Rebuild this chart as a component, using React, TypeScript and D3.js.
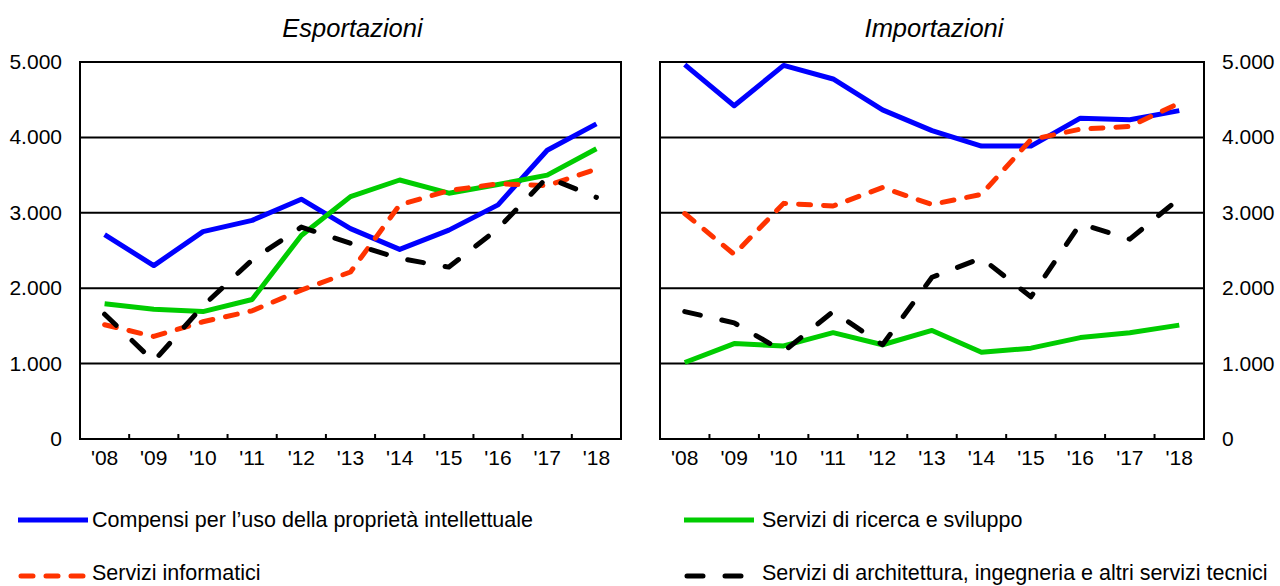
import * as d3 from "d3";

const years = ["'08", "'09", "'10", "'11", "'12", "'13", "'14", "'15", "'16", "'17", "'18"];
const yTicks = [0, 1000, 2000, 3000, 4000, 5000];

// esportazioni
const expCompensi = [2710, 2300, 2750, 2900, 3180, 2790, 2515, 2770, 3105, 3830, 4180];
const expRicerca = [1795, 1720, 1690, 1850, 2700, 3215, 3435, 3260, 3375, 3500, 3850];
const expInformatici = [1515, 1360, 1555, 1700, 1975, 2215, 3105, 3295, 3385, 3360, 3580];
const expArchitettura = [1655, 1030, 1765, 2375, 2810, 2595, 2395, 2280, 2790, 3470, 3205];

// importazioni
const impCompensi = [4965, 4420, 4955, 4775, 4365, 4090, 3885, 3885, 4255, 4235, 4355];
const impRicerca = [1015, 1265, 1235, 1410, 1250, 1440, 1150, 1205, 1345, 1410, 1510];
const impInformatici = [2990, 2450, 3125, 3090, 3335, 3110, 3245, 3970, 4110, 4145, 4455];
const impArchitettura = [1690, 1540, 1160, 1690, 1250, 2145, 2400, 1885, 2855, 2650, 3190];

const seriesStyle = [
  { name: "Compensi per l\u2019uso della proprietà intellettuale", color: "#0000ff", dash: null },
  { name: "Servizi di ricerca e sviluppo", color: "#00cc00", dash: null },
  { name: "Servizi informatici", color: "#ff3300", dash: "12 13" },
  { name: "Servizi di architettura, ingegneria e altri servizi tecnici", color: "#000000", dash: "16 22" },
];

const font = "'Liberation Sans', Arial, sans-serif";
const fmt = d3.formatLocale({ decimal: ",", thousands: ".", grouping: [3], currency: ["", ""] }).format(",");

const top = 62;
const bottom = 439;

const Panel = ({ title, x0, x1, data, side }: any) => {
  const x = d3.scaleBand().domain(years).range([x0, x1]);
  const y = d3.scaleLinear().domain([0, 5000]).range([bottom, top]);
  const line = d3
    .line<number>()
    .x((d, i) => (x(years[i]) as number) + x.bandwidth() / 2)
    .y((d) => y(d));

  return (
    <g>
      <text x={(x0 + x1) / 2 + 2} y={37} textAnchor="middle" fontStyle="italic" fontSize={25.5} fontFamily={font}>
        {title}
      </text>
      {/* griglia */}
      {yTicks.slice(1, -1).map((t) => (
        <line key={t} x1={x0} x2={x1} y1={y(t)} y2={y(t)} stroke="#000" strokeWidth={2} />
      ))}
      <rect x={x0} y={top} width={x1 - x0} height={bottom - top} fill="none" stroke="#000" strokeWidth={2} />
      {/* tacche asse x */}
      {years.slice(1).map((yr) => (
        <line key={yr} x1={x(yr)} x2={x(yr)} y1={bottom} y2={bottom - 5} stroke="#000" strokeWidth={2} />
      ))}
      {years.map((yr) => (
        <text key={yr} x={(x(yr) as number) + x.bandwidth() / 2} y={465} textAnchor="middle" fontSize={21} fontFamily={font}>
          {yr}
        </text>
      ))}
      {yTicks.map((t) => (
        <text
          key={t}
          x={side === "left" ? x0 - 18 : x1 + 18}
          y={y(t) + 7}
          textAnchor={side === "left" ? "end" : "start"}
          fontSize={21}
          fontFamily={font}
        >
          {fmt(t)}
        </text>
      ))}
      {data.map((vals: number[], i: number) => (
        <path
          key={i}
          d={line(vals) as string}
          fill="none"
          stroke={seriesStyle[i].color}
          strokeWidth={5}
          strokeDasharray={seriesStyle[i].dash || undefined}
          strokeLinecap={seriesStyle[i].dash ? "round" : "butt"}
          strokeLinejoin="round"
        />
      ))}
    </g>
  );
};

const Legend = () => {
  const pos = [
    { x: 18, y: 520, tx: 92, ty: 527 },
    { x: 684, y: 520, tx: 762, ty: 527 },
    { x: 18, y: 576, tx: 92, ty: 580 },
    { x: 684, y: 576, tx: 762, ty: 580 },
  ];
  return (
    <g>
      {seriesStyle.map((s, i) => (
        <g key={i}>
          <line
            x1={pos[i].x + (s.dash ? 3 : 0)}
            x2={pos[i].x + 70}
            y1={pos[i].y}
            y2={pos[i].y}
            stroke={s.color}
            strokeWidth={5}
            strokeDasharray={s.dash || undefined}
            strokeLinecap={s.dash ? "round" : "butt"}
          />
          <text x={pos[i].tx} y={pos[i].ty} fontSize={21.5} fontFamily={font}>
            {s.name}
          </text>
        </g>
      ))}
    </g>
  );
};

export default function App() {
  return (
    <svg width={1280} height={586} style={{ position: "absolute", left: 0, top: 0, background: "#fff" }}>
      <Panel
        title="Esportazioni"
        x0={80}
        x1={621}
        side="left"
        data={[expCompensi, expRicerca, expInformatici, expArchitettura]}
      />
      <Panel
        title="Importazioni"
        x0={660}
        x1={1204}
        side="right"
        data={[impCompensi, impRicerca, impInformatici, impArchitettura]}
      />
      <Legend />
    </svg>
  );
}
